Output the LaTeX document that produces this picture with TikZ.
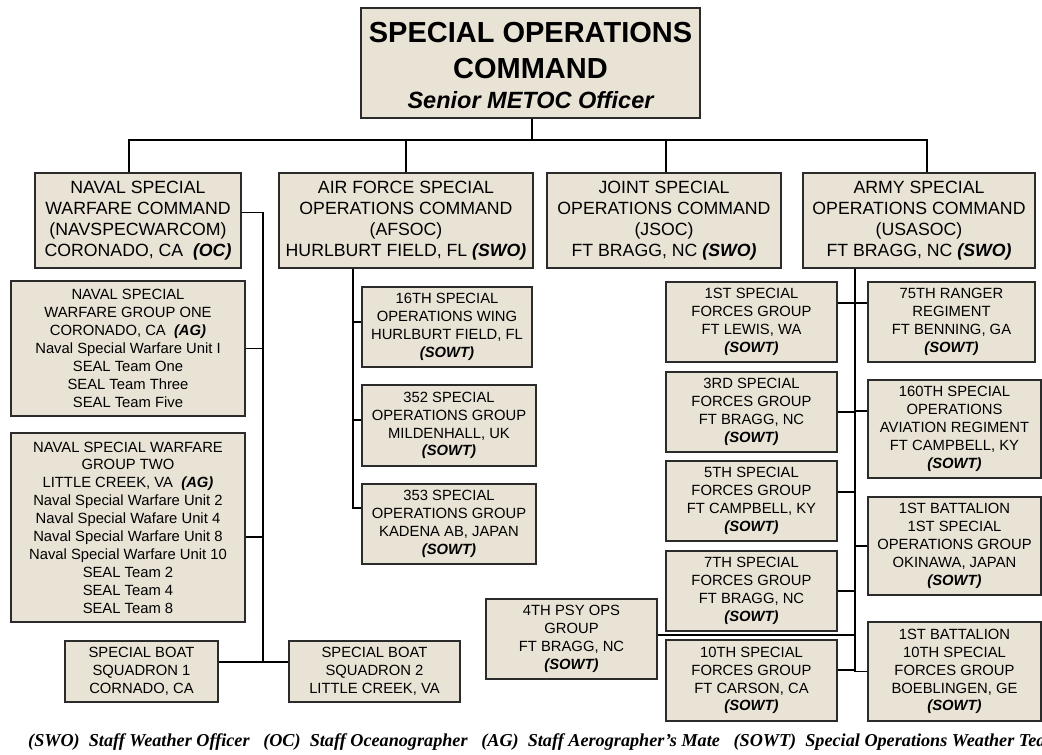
\documentclass[tikz,border=0pt]{standalone}
\usepackage{fontspec}
\setmainfont{Liberation Sans}
\newfontfamily\legendfont{Liberation Serif}
\usetikzlibrary{calc}
\definecolor{boxfill}{HTML}{E9E3D6}
\definecolor{boxline}{HTML}{2B2B2B}
\newcommand{\role}[1]{\textbf{\textit{#1}}}

\begin{document}
\begin{tikzpicture}[x=1pt, y=-1pt,
  unit/.style={draw=boxline, fill=boxfill, line width=1.2pt, inner sep=0pt,
               align=center, font=\fontsize{14.8}{17.9}\selectfont},
  cmd/.style={unit, font=\fontsize{17.7}{21}\selectfont},
  link/.style={line width=1.4pt, black}]
  \useasboundingbox (0,0) rectangle (1042,755);
  \node[unit, minimum width=339pt, minimum height=110pt,
        font=\fontsize{29}{36}\selectfont\bfseries] (socom) at (530.5,63)
        {\rule{0pt}{26pt}SPECIAL OPERATIONS\\COMMAND\\[-6pt]{\fontsize{23.5}{30}\selectfont\itshape Senior METOC Officer}};
  \node[cmd, minimum width=206pt, minimum height=95pt] (navspec) at (138,220.5)
        {NAVAL SPECIAL\\WARFARE COMMAND\\(NAVSPECWARCOM)\\CORONADO, CA\ \ \role{(OC)}};
  \node[cmd, minimum width=254pt, minimum height=95pt] (afsoc) at (406,220.5)
        {AIR FORCE SPECIAL\\OPERATIONS COMMAND\\(AFSOC)\\HURLBURT FIELD, FL \role{(SWO)}};
  \node[cmd, minimum width=234pt, minimum height=95pt] (jsoc) at (664,220.5)
        {JOINT SPECIAL\\OPERATIONS COMMAND\\(JSOC)\\FT BRAGG, NC \role{(SWO)}};
  \node[cmd, minimum width=232pt, minimum height=95pt] (usasoc) at (919,220.5)
        {ARMY SPECIAL\\OPERATIONS COMMAND\\(USASOC)\\FT BRAGG, NC \role{(SWO)}};
  \node[unit, minimum width=234pt, minimum height=135pt] (nswg1) at (128,348.5)
        {NAVAL SPECIAL\\WARFARE GROUP ONE\\CORONADO, CA\ \ \role{(AG)}\\Naval Special Warfare Unit I\\SEAL Team One\\SEAL Team Three\\SEAL Team Five};
  \node[unit, minimum width=234pt, minimum height=189pt] (nswg2) at (128,527.5)
        {NAVAL SPECIAL WARFARE\\GROUP TWO\\LITTLE CREEK, VA\ \ \role{(AG)}\\Naval Special Warfare Unit 2\\Naval Special Wafare Unit 4\\Naval Special Warfare Unit 8\\Naval Special Warfare Unit 10\\SEAL Team 2\\SEAL Team 4\\SEAL Team 8};
  \node[unit, minimum width=153pt, minimum height=61pt] (sbs1) at (141.5,671.5)
        {SPECIAL BOAT\\SQUADRON 1\\CORNADO, CA};
  \node[unit, minimum width=171pt, minimum height=61pt] (sbs2) at (374.5,671.5)
        {SPECIAL BOAT\\SQUADRON 2\\LITTLE CREEK, VA};
  \node[unit, minimum width=170pt, minimum height=80pt] (sow16) at (447,327)
        {16TH SPECIAL\\OPERATIONS WING\\HURLBURT FIELD, FL\\\role{(SOWT)}};
  \node[unit, minimum width=174pt, minimum height=81pt] (sog352) at (449,425.5)
        {352 SPECIAL\\OPERATIONS GROUP\\MILDENHALL, UK\\\role{(SOWT)}};
  \node[unit, minimum width=174pt, minimum height=80pt] (sog353) at (449,524)
        {353 SPECIAL\\OPERATIONS GROUP\\KADENA AB, JAPAN\\\role{(SOWT)}};
  \node[unit, minimum width=171pt, minimum height=80pt] (sfg1) at (751.5,322)
        {1ST SPECIAL\\FORCES GROUP\\FT LEWIS, WA\\\role{(SOWT)}};
  \node[unit, minimum width=171pt, minimum height=80pt] (sfg3) at (751.5,412)
        {3RD SPECIAL\\FORCES GROUP\\FT BRAGG, NC\\\role{(SOWT)}};
  \node[unit, minimum width=171pt, minimum height=80pt] (sfg5) at (751.5,501)
        {5TH SPECIAL\\FORCES GROUP\\FT CAMPBELL, KY\\\role{(SOWT)}};
  \node[unit, minimum width=171pt, minimum height=80pt] (sfg7) at (751.5,591)
        {7TH SPECIAL\\FORCES GROUP\\FT BRAGG, NC\\\role{(SOWT)}};
  \node[unit, minimum width=171pt, minimum height=81pt] (sfg10) at (751.5,680.5)
        {10TH SPECIAL\\FORCES GROUP\\FT CARSON, CA\\\role{(SOWT)}};
  \node[unit, minimum width=171pt, minimum height=80pt] (psyop) at (571.5,639)
        {4TH PSY OPS\\GROUP\\FT BRAGG, NC\\\role{(SOWT)}};
  \node[unit, minimum width=167pt, minimum height=80pt] (rgr75) at (951.5,322)
        {75TH RANGER\\REGIMENT\\FT BENNING, GA\\\role{(SOWT)}};
  \node[unit, minimum width=173pt, minimum height=98pt] (soar160) at (954.5,429)
        {160TH SPECIAL\\OPERATIONS\\AVIATION REGIMENT\\FT CAMPBELL, KY\\\role{(SOWT)}};
  \node[unit, minimum width=173pt, minimum height=98pt] (bat1sog) at (954.5,546)
        {1ST BATTALION\\1ST SPECIAL\\OPERATIONS GROUP\\OKINAWA, JAPAN\\\role{(SOWT)}};
  \node[unit, minimum width=173pt, minimum height=99pt] (bat10sfg) at (954.5,671.5)
        {1ST BATTALION\\10TH SPECIAL\\FORCES GROUP\\BOEBLINGEN, GE\\\role{(SOWT)}};
  \node[anchor=base west, inner sep=0pt, font=\legendfont\bfseries\itshape\fontsize{18.2}{20}\selectfont]
        (legend) at (28,746)
        {(SWO)\ \ Staff Weather Officer\ \ \ (OC)\ \ Staff Oceanographer\ \ \ (AG)\ \ Staff Aerographer’s Mate\ \ \ (SOWT)\ \ Special Operations Weather Team};
  \coordinate (bus) at (532,140);
  \coordinate (navspine) at (263,662);
  \coordinate (afspine) at (353,508);
  \coordinate (armyspine) at (855,670);
  \draw[link] (socom.south -| bus) -- (bus);
  \draw[link] ([xshift=-9pt]navspec.north) |- (bus) -| ([xshift=8pt]usasoc.north);
  \draw[link] (afsoc.north) |- (bus);
  \draw[link] ([xshift=2pt]jsoc.north) |- (bus);
  \draw[link] ([yshift=8pt]navspec.east) -| (navspine);
  \draw[link] (nswg1.east) -| (navspine);
  \draw[link] ([yshift=-9.5pt]nswg2.east) -| (navspine);
  \draw[link] (sbs1.east |- navspine) -- (sbs2.west |- navspine);
  \draw[link] (afsoc.south -| afspine) -- (afspine) -- (sog353.west |- afspine);
  \draw[link] ([yshift=5pt]sow16.west) -| (afspine);
  \draw[link] ([yshift=5.5pt]sog352.west) -| (afspine);
  \draw[link] (usasoc.south -| armyspine) -- (armyspine);
  \draw[link] ([yshift=19pt]sfg1.east) -| (armyspine);
  \draw[link] (sfg3.east) -| (armyspine);
  \draw[link] ([yshift=9pt]sfg5.east) -| (armyspine);
  \draw[link] (sfg7.east) -| (armyspine);
  \draw[link] ([yshift=10.5pt]sfg10.east) -| (armyspine);
  \draw[link] ([yshift=4pt]psyop.east) -| (armyspine);
  \draw[link] ([yshift=19pt]rgr75.west) -| (armyspine);
  \draw[link] ([yshift=18pt]soar160.west) -| (armyspine);
  \draw[link] (bat1sog.west) -| (armyspine);
  \draw[link] (bat10sfg.west) -| (armyspine);
\end{tikzpicture}
\end{document}
